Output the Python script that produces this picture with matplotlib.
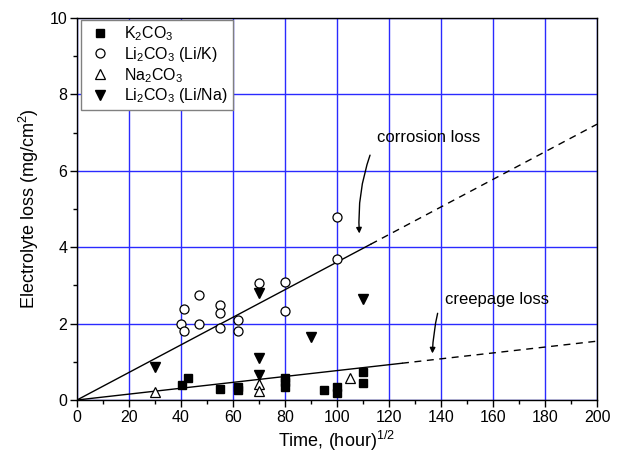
import numpy as np
import matplotlib
matplotlib.use('Agg')
import matplotlib.pyplot as plt
from matplotlib.ticker import MultipleLocator

plt.rcParams['font.family'] = ['Liberation Sans', 'DejaVu Sans']
plt.rcParams['mathtext.default'] = 'regular'

# K2CO3
k_x = [40.5, 42.5, 55, 62, 62, 80, 80, 80, 95, 100, 100, 110, 110]
k_y = [0.38, 0.58, 0.30, 0.35, 0.25, 0.57, 0.46, 0.34, 0.27, 0.35, 0.18, 0.74, 0.45]

# Li2CO3 (Li/K)
lik_x = [40, 41, 41, 47, 47, 55, 55, 55, 62, 62, 70, 80, 80, 100, 100]
lik_y = [2.0, 2.38, 1.80, 2.75, 2.0, 2.49, 2.29, 1.88, 2.09, 1.80, 3.07, 3.08, 2.33, 3.69, 4.79]

# Na2CO3
na_x = [30, 70, 70, 105]
na_y = [0.20, 0.42, 0.24, 0.58]

# Li2CO3 (Li/Na)
lina_x = [30, 70, 70, 70, 90, 110]
lina_y = [0.87, 2.8, 1.09, 0.65, 1.65, 2.65]

# fitted lines: slope, end of solid part
corr_slope, corr_solid = 0.0361, 113
creep_slope, creep_solid = 0.0077, 125
x_end = 200

fig = plt.figure(figsize=(6.17, 4.62), dpi=100)
ax = fig.add_axes([0.1248, 0.1342, 0.8428, 0.8268])

ax.set_xlim(0, 200)
ax.set_ylim(0, 10)
ax.xaxis.set_major_locator(MultipleLocator(20))
ax.xaxis.set_minor_locator(MultipleLocator(10))
ax.yaxis.set_major_locator(MultipleLocator(2))
ax.yaxis.set_minor_locator(MultipleLocator(1))
ax.grid(True, which='major', color='#2a2aff', linewidth=1.0)
ax.set_axisbelow(True)
ax.tick_params(which='major', direction='out', length=5, width=1, labelsize=11.5, pad=2)
ax.tick_params(which='minor', direction='out', length=3, width=1)
for s in ax.spines.values():
    s.set_linewidth(1.0)

# lines
ax.plot([0, corr_solid], [0, corr_slope * corr_solid], color='black', lw=1)
ax.plot([corr_solid, x_end], [corr_slope * corr_solid, corr_slope * x_end], color='black', lw=1, ls=(0, (5, 4)))
ax.plot([0, creep_solid], [0, creep_slope * creep_solid], color='black', lw=1)
ax.plot([creep_solid, x_end], [creep_slope * creep_solid, creep_slope * x_end], color='black', lw=1, ls=(0, (5, 4)))

ax.plot(k_x, k_y, 's', color='black', ms=5.5, label='K$_2$CO$_3$', clip_on=False)
ax.plot(lik_x, lik_y, 'o', mfc='white', mec='black', mew=0.9, ms=6.5, label='Li$_2$CO$_3$ (Li/K)')
ax.plot(na_x, na_y, '^', mfc='white', mec='black', mew=0.9, ms=7, label='Na$_2$CO$_3$')
ax.plot(lina_x, lina_y, 'v', color='black', ms=7.5, label='Li$_2$CO$_3$ (Li/Na)')

# annotations
ax.text(115.4, 6.88, 'corrosion loss', fontsize=12, ha='left', va='center')
ax.annotate('', xy=(108.6, 4.36), xytext=(112.7, 6.41),
            arrowprops=dict(arrowstyle='-|>', color='black', lw=1,
                            connectionstyle='arc3,rad=0.1', shrinkA=0, shrinkB=0,
                            mutation_scale=8))
ax.text(141.5, 2.62, 'creepage loss', fontsize=12, ha='left', va='center')
ax.annotate('', xy=(136.7, 1.22), xytext=(138.7, 2.27),
            arrowprops=dict(arrowstyle='-|>', color='black', lw=1,
                            connectionstyle='arc3,rad=0.05', shrinkA=0, shrinkB=0,
                            mutation_scale=8))

ax.set_xlabel('Time, (hour)$^{1/2}$', fontsize=13, labelpad=3)
ax.set_ylabel('Electrolyte loss (mg/cm$^2$)', fontsize=13, labelpad=6)

leg = ax.legend(loc='upper left', bbox_to_anchor=(0.008, 0.996), fontsize=11.5,
                frameon=True, fancybox=False, edgecolor='#808080', framealpha=1,
                handletextpad=0.6, labelspacing=0.12, borderpad=0.3, handlelength=1.8,
                borderaxespad=0)
leg.get_frame().set_linewidth(1)

fig.savefig('out.png', dpi=100)
